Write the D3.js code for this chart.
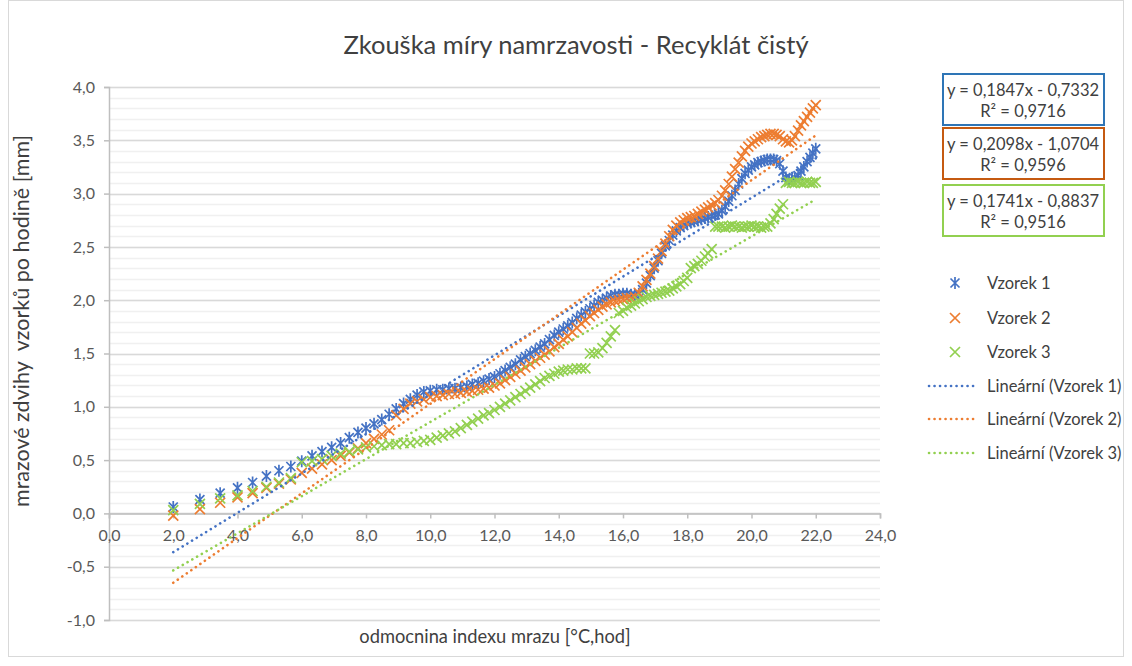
<!DOCTYPE html>
<html>
<head>
<meta charset="utf-8">
<script src="https://cdn.jsdelivr.net/npm/d3@7"></script>
<style>
  body { margin: 0; background: #fff; }
  svg { display: block; font-family: Lato, "Open Sans", sans-serif; }
</style>
</head>
<body>
<svg id="chart"></svg>
<script>
// odmocnina indexu mrazu (x)
var xValues = [2.00,2.83,3.46,4.00,4.47,4.90,5.29,5.66,6.00,6.32,6.63,6.93,7.21,7.48,7.75,8.00,8.25,8.49,8.72,8.94,
  9.17,9.38,9.59,9.80,10.00,10.20,10.39,10.58,10.77,10.95,11.14,11.31,11.49,11.66,11.83,12.00,12.17,12.33,12.49,12.65,
  12.81,12.96,13.11,13.27,13.42,13.56,13.71,13.86,14.00,14.14,14.28,14.42,14.56,14.70,14.83,14.97,15.10,15.23,15.36,15.49,
  15.62,15.75,15.87,16.00,16.12,16.25,16.37,16.49,16.61,16.73,16.85,16.97,17.09,17.20,17.32,17.44,17.55,17.66,17.78,17.89,
  18.00,18.11,18.22,18.33,18.44,18.55,18.65,18.76,18.87,18.97,19.08,19.18,19.29,19.39,19.49,19.60,19.70,19.80,19.90,20.00,
  20.10,20.20,20.30,20.40,20.49,20.59,20.69,20.78,20.88,20.98,21.07,21.17,21.26,21.35,21.45,21.54,21.63,21.73,21.82,21.91,22.00]

var vzorek1 = [0.06,0.13,0.19,0.24,0.29,0.35,0.40,0.44,0.49,0.54,0.58,0.62,0.66,0.71,0.76,0.80,0.84,0.88,0.93,0.98,
  1.03,1.07,1.11,1.14,1.15,1.16,1.16,1.17,1.17,1.18,1.19,1.21,1.22,1.24,1.26,1.28,1.31,1.34,1.37,1.40,
  1.44,1.47,1.50,1.53,1.56,1.59,1.63,1.67,1.70,1.73,1.76,1.79,1.83,1.86,1.89,1.92,1.95,1.98,2.00,2.02,
  2.04,2.05,2.05,2.06,2.06,2.05,2.05,2.06,2.10,2.16,2.23,2.30,2.37,2.44,2.51,2.56,2.61,2.65,2.68,2.70,
  2.72,2.73,2.74,2.75,2.76,2.77,2.78,2.79,2.80,2.81,2.84,2.88,2.93,2.98,3.03,3.09,3.14,3.19,3.22,3.25,
  3.27,3.29,3.30,3.31,3.32,3.32,3.32,3.31,3.28,3.21,3.15,3.13,3.13,3.14,3.17,3.21,3.25,3.30,3.34,3.38,3.42]

var vzorek2 = [-0.02,0.04,0.10,0.15,0.19,0.24,0.28,0.32,0.38,0.42,0.46,0.50,0.54,0.57,0.61,0.66,0.70,0.74,0.78,0.92,
  0.98,1.03,1.05,1.07,1.09,1.10,1.11,1.12,1.12,1.13,1.14,1.15,1.16,1.17,1.18,1.20,1.22,1.25,1.28,1.31,
  1.34,1.37,1.40,1.43,1.46,1.49,1.52,1.56,1.59,1.63,1.66,1.70,1.74,1.78,1.81,1.85,1.88,1.91,1.94,1.96,
  1.98,1.99,2.00,2.01,2.02,2.02,2.03,2.07,2.13,2.19,2.25,2.32,2.39,2.46,2.53,2.60,2.66,2.70,2.73,2.75,
  2.77,2.78,2.79,2.81,2.83,2.85,2.87,2.89,2.91,2.94,2.98,3.03,3.09,3.16,3.23,3.29,3.35,3.40,3.44,3.47,
  3.49,3.51,3.53,3.54,3.55,3.56,3.56,3.55,3.54,3.51,3.49,3.48,3.50,3.54,3.59,3.64,3.68,3.72,3.76,3.80,3.83]

var vzorek3 = [0.03,0.09,0.14,0.17,0.21,0.25,0.29,0.33,0.48,0.49,0.51,0.54,0.56,0.58,0.60,0.62,0.63,0.64,0.65,0.65,
  0.66,0.66,0.67,0.68,0.69,0.71,0.73,0.75,0.77,0.80,0.83,0.86,0.89,0.92,0.94,0.97,1.00,1.03,1.06,1.09,
  1.12,1.15,1.18,1.21,1.24,1.27,1.29,1.31,1.33,1.34,1.35,1.35,1.36,1.36,1.36,1.50,1.50,1.51,1.55,1.60,
  1.66,1.72,1.88,1.90,1.93,1.95,1.97,1.99,2.01,2.03,2.04,2.05,2.06,2.07,2.08,2.09,2.11,2.13,2.15,2.18,
  2.21,2.30,2.32,2.34,2.37,2.41,2.44,2.48,2.69,2.69,2.69,2.68,2.69,2.70,2.69,2.69,2.68,2.69,2.69,2.70,
  2.69,2.69,2.68,2.69,2.69,2.72,2.76,2.81,2.86,2.90,3.10,3.11,3.10,3.10,3.11,3.10,3.10,3.11,3.10,3.10,3.11]

var seriesNames = ["Vzorek 1", "Vzorek 2", "Vzorek 3"]
var seriesColors = ["#4472C4", "#ED7D31", "#92D050"]
var boxColors = ["#2E75B6", "#C55A11", "#92D050"]
var trendSlope = [0.1847, 0.2098, 0.1741]
var trendIntercept = [-0.7332, -1.0704, -0.8837]
var trendLabels = ["y = 0,1847x - 0,7332", "y = 0,2098x - 1,0704", "y = 0,1741x - 0,8837"]
var r2Labels = ["R² = 0,9716", "R² = 0,9596", "R² = 0,9516"]
var xTicks = d3.range(0, 24.1, 2)
var yTicks = d3.range(-1, 4.01, 0.5)
var yMinorTicks = d3.range(-1, 4.01, 0.1)

var W = 1132, H = 666
var svg = d3.select("#chart").attr("width", W).attr("height", H)

var cz = d3.formatLocale({decimal: ",", thousands: " ", grouping: [3], currency: ["", ""], minus: "-"})
var fmt = cz.format(".1f")

var x = d3.scaleLinear().domain([0, 24]).range([109, 880])
var y = d3.scaleLinear().domain([-1, 4]).range([620, 87])

// chart frame
svg.append("rect").attr("x", 8.5).attr("y", 0.5).attr("width", 1115).attr("height", 656)
  .attr("fill", "#fff").attr("stroke", "#d9d9d9")

// minor + major gridlines
svg.append("g").selectAll("line").data(yMinorTicks).enter().append("line")
  .attr("x1", x(0)).attr("x2", x(24))
  .attr("y1", d => Math.round(y(d)) + 0.5).attr("y2", d => Math.round(y(d)) + 0.5)
  .attr("stroke", "#f0f0f0").attr("stroke-width", 1.5)
svg.append("g").selectAll("line").data(yTicks).enter().append("line")
  .attr("x1", x(0)).attr("x2", x(24))
  .attr("y1", d => Math.round(y(d)) + 0.5).attr("y2", d => Math.round(y(d)) + 0.5)
  .attr("stroke", "#d9d9d9").attr("stroke-width", 1.5)

// y axis
var yAxis = svg.append("g").attr("transform", "translate(" + x(0) + ",0)")
  .call(d3.axisLeft(y).tickValues(yTicks).tickFormat(fmt).tickSize(5).tickPadding(9))
yAxis.select(".domain").attr("stroke", "#bfbfbf").attr("stroke-width", 1.5)
yAxis.selectAll(".tick line").attr("stroke", "#bfbfbf").attr("stroke-width", 1.5)
yAxis.selectAll("text").attr("fill", "#595959").style("font-size", "16px").style("font-family", "Lato")

// x axis on y = 0
var xAxis = svg.append("g").attr("transform", "translate(0," + y(0) + ")")
  .call(d3.axisBottom(x).tickValues(xTicks).tickFormat(fmt).tickSize(5).tickPadding(11))
xAxis.select(".domain").attr("stroke", "#bfbfbf").attr("stroke-width", 1.5)
xAxis.selectAll(".tick line").attr("stroke", "#bfbfbf").attr("stroke-width", 1.5)
xAxis.selectAll("text").attr("fill", "#595959").style("font-size", "16px").style("font-family", "Lato")

// markers
var star = "M-4.5,-4.5L4.5,4.5M-4.5,4.5L4.5,-4.5M0,-6L0,6"
var cross = "M-5,-5L5,5M-5,5L5,-5"
var allSeries = [vzorek1, vzorek2, vzorek3]
allSeries.forEach(function(vals, si) {
  svg.append("g").selectAll("path").data(vals).enter().append("path")
    .attr("transform", (d, i) => "translate(" + x(xValues[i]) + "," + y(d) + ")")
    .attr("d", si == 0 ? star : cross)
    .attr("fill", "none")
    .attr("stroke", seriesColors[si])
    .attr("stroke-width", 1.7)
})

// linear trendlines
var xr = d3.extent(xValues)
var trendLine = d3.line().x(d => x(d[0])).y(d => y(d[1]))
trendSlope.forEach(function(a, si) {
  var b = trendIntercept[si]
  svg.append("path")
    .attr("d", trendLine(xr.map(v => [v, a * v + b])))
    .attr("fill", "none")
    .attr("stroke", seriesColors[si])
    .attr("stroke-width", 2.6)
    .attr("stroke-linecap", "round")
    .attr("stroke-dasharray", "0.1 5.4")
})

// title
svg.append("text").text("Zkouška míry namrzavosti - Recyklát čistý")
  .attr("x", 576).attr("y", 54).attr("text-anchor", "middle")
  .attr("fill", "#404040").style("font-size", "25.5px")

// axis titles
svg.append("text").text("odmocnina indexu mrazu [°C,hod]")
  .attr("x", 495).attr("y", 643).attr("text-anchor", "middle")
  .attr("fill", "#404040").style("font-size", "18.3px")
svg.append("text").text("mrazové zdvihy  vzorků po hodině [mm]")
  .attr("transform", "translate(29,321) rotate(-90)")
  .attr("text-anchor", "middle").attr("xml:space", "preserve")
  .attr("fill", "#404040").style("font-size", "21.5px")

// equation boxes
var boxTop = [74, 128, 185]
trendLabels.forEach(function(t, i) {
  var g = svg.append("g")
  g.append("rect").attr("x", 943).attr("y", boxTop[i]).attr("width", 161).attr("height", 51)
    .attr("fill", "#fff").attr("stroke", boxColors[i]).attr("stroke-width", 2)
  g.append("text").text(t).attr("x", 1023).attr("y", boxTop[i] + 22)
    .attr("text-anchor", "middle").attr("fill", "#404040").style("font-size", "16.5px")
  g.append("text").text(r2Labels[i]).attr("x", 1023).attr("y", boxTop[i] + 43)
    .attr("text-anchor", "middle").attr("fill", "#404040").style("font-size", "16.5px")
})

// legend
var legY = [283, 318, 352]
seriesNames.forEach(function(n, i) {
  svg.append("path").attr("d", i == 0 ? star : cross)
    .attr("transform", "translate(955," + legY[i] + ")")
    .attr("fill", "none").attr("stroke", seriesColors[i]).attr("stroke-width", 1.7)
  svg.append("text").text(n).attr("x", 987).attr("y", legY[i] + 6)
    .attr("fill", "#404040").style("font-size", "16.5px")
})
var legY2 = [386, 419, 453]
seriesNames.forEach(function(n, i) {
  svg.append("line").attr("x1", 929).attr("x2", 977).attr("y1", legY2[i]).attr("y2", legY2[i])
    .attr("stroke", seriesColors[i]).attr("stroke-width", 2.6)
    .attr("stroke-linecap", "round").attr("stroke-dasharray", "0.1 5.4")
  svg.append("text").text("Lineární (" + n + ")").attr("x", 987).attr("y", legY2[i] + 6)
    .attr("fill", "#404040").style("font-size", "16.5px")
})
</script>
</body>
</html>
